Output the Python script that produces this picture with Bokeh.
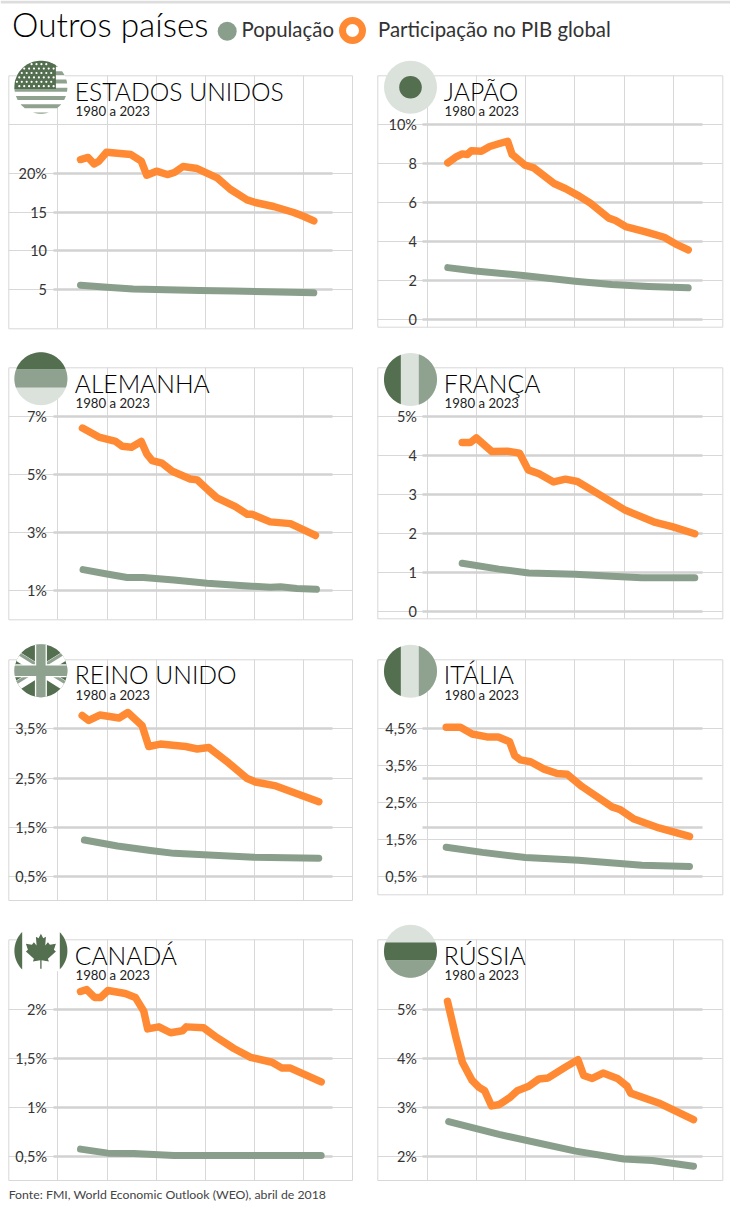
import math
from bokeh.plotting import figure
from bokeh.layouts import column, row
from bokeh.models import Range1d, LinearAxis, FixedTicker, Grid
from bokeh.core.properties import value
from bokeh.embed import file_html
from bokeh.resources import INLINE

# ---------- data (year, % of world) ----------
eua_anos_pib = [1980, 1981.4, 1982.5, 1983.4, 1984.8, 1986.8, 1989.3, 1991.2, 1992.2, 1994, 1996, 1997.3, 1998.9, 2001.5, 2005.2, 2007.6, 2010.7, 2012.2, 2015.6, 2019.3, 2021.2, 2023]
eua_pib = [21.76, 22.02, 21.2, 21.55, 22.7, 22.57, 22.4, 21.55, 19.74, 20.26, 19.83, 20.09, 20.86, 20.6, 19.4, 17.94, 16.57, 16.23, 15.72, 14.94, 14.43, 13.87]
eua_anos_pop = [1980, 1984.9, 1989.7, 1995.9, 2002, 2008.2, 2014.3, 2023]
eua_pop = [5.6, 5.34, 5.09, 5.0, 4.91, 4.83, 4.74, 4.61]

jap_anos_pib = [1980, 1981.4, 1982.6, 1983.5, 1984.2, 1986, 1987.5, 1989.1, 1990.7, 1991.5, 1993.8, 1995.4, 1999, 2001.1, 2003.5, 2005.5, 2008.8, 2010, 2011.8, 2015.4, 2018.7, 2020.7, 2023]
jap_pib = [8.03, 8.32, 8.49, 8.46, 8.65, 8.63, 8.87, 9.01, 9.14, 8.46, 7.91, 7.77, 6.97, 6.7, 6.32, 5.96, 5.19, 5.07, 4.76, 4.49, 4.21, 3.87, 3.56]
jap_anos_pop = [1980, 1984.9, 1993.9, 2002.8, 2009.3, 2015.9, 2023]
jap_pop = [2.65, 2.48, 2.23, 1.95, 1.78, 1.68, 1.61]

ale_anos_pib = [1980, 1983, 1986.1, 1987.3, 1989, 1990.8, 1991.8, 1992.8, 1994.6, 1996.5, 1999.8, 2001.1, 2003.2, 2004.7, 2008.1, 2010.3, 2011.2, 2014.5, 2018.2, 2022.8]
ale_pib = [6.6, 6.29, 6.14, 5.97, 5.94, 6.14, 5.71, 5.48, 5.39, 5.11, 4.84, 4.81, 4.44, 4.19, 3.89, 3.62, 3.62, 3.36, 3.3, 2.89]
ale_anos_pop = [1980.1, 1984.5, 1988.2, 1991.2, 1996.8, 2002.9, 2009, 2014.5, 2016.4, 2019.4, 2023]
ale_pop = [1.71, 1.56, 1.44, 1.44, 1.35, 1.24, 1.16, 1.1, 1.12, 1.06, 1.03]

fra_anos_pib = [1980, 1981.5, 1982.6, 1985.5, 1988.3, 1990.6, 1992.2, 1994.2, 1996.9, 1999.1, 2001.3, 2005.3, 2010.2, 2015.7, 2018.8, 2023]
fra_pib = [4.33, 4.33, 4.45, 4.1, 4.11, 4.06, 3.63, 3.53, 3.32, 3.39, 3.33, 3.0, 2.59, 2.28, 2.17, 1.99]
fra_anos_pop = [1980, 1986.8, 1992.3, 2000.9, 2007.6, 2013.2, 2023]
fra_pop = [1.23, 1.08, 0.98, 0.95, 0.9, 0.86, 0.86]

rei_anos_pib = [1980, 1981.2, 1983.2, 1986.7, 1988.3, 1990.9, 1992.1, 1994.2, 1998.8, 2000.9, 2003, 2006.7, 2010, 2011.5, 2015.2, 2023]
rei_pib = [3.77, 3.67, 3.78, 3.72, 3.83, 3.56, 3.14, 3.19, 3.14, 3.09, 3.12, 2.8, 2.49, 2.42, 2.34, 2.02]
rei_anos_pop = [1980.4, 1986.4, 1992.4, 1996.7, 2003.9, 2011.2, 2023]
rei_pop = [1.24, 1.12, 1.03, 0.97, 0.93, 0.89, 0.87]

ita_anos_pib = [1980, 1982.5, 1984.6, 1987.2, 1989.2, 1991.2, 1992.1, 1993.1, 1994.9, 1997.3, 1999.6, 2001.4, 2004, 2009.3, 2010.8, 2013.2, 2017.6, 2023]
ita_pib = [4.54, 4.54, 4.36, 4.28, 4.28, 4.15, 3.78, 3.66, 3.61, 3.41, 3.29, 3.27, 2.94, 2.39, 2.31, 2.06, 1.82, 1.59]
ita_anos_pop = [1980, 1986.4, 1994, 2003.4, 2014.6, 2023]
ita_pop = [1.3, 1.16, 1.02, 0.95, 0.81, 0.78]

can_anos_pib = [1980, 1981.1, 1982.5, 1983.6, 1984.9, 1988, 1989.8, 1991.3, 1992, 1994, 1996.1, 1998.2, 1998.9, 2002, 2004.4, 2007.4, 2010.4, 2014.2, 2016, 2017.5, 2023]
can_pib = [2.18, 2.2, 2.12, 2.12, 2.19, 2.16, 2.12, 1.98, 1.8, 1.82, 1.76, 1.78, 1.82, 1.81, 1.71, 1.6, 1.51, 1.46, 1.4, 1.4, 1.26]
can_anos_pop = [1980, 1984.9, 1989.5, 1996.7, 2023]
can_pop = [0.575, 0.534, 0.53, 0.51, 0.51]

rus_anos_pib = [1980, 1981.4, 1982.6, 1984.3, 1985.5, 1986.5, 1987.7, 1989.1, 1991, 1992.2, 1994.2, 1996, 1997.6, 2000.6, 2002.8, 2003.8, 2005.3, 2007.2, 2009.7, 2011.4, 2012, 2016.9, 2023]
rus_pib = [5.16, 4.46, 3.92, 3.55, 3.41, 3.34, 3.03, 3.06, 3.21, 3.34, 3.43, 3.58, 3.6, 3.82, 3.97, 3.65, 3.59, 3.7, 3.59, 3.43, 3.29, 3.09, 2.75]
rus_anos_pop = [1980.2, 1989, 2002.4, 2010.8, 2015.8, 2023]
rus_pop = [2.71, 2.45, 2.11, 1.95, 1.92, 1.8]

titulo = "Outros países"
serie_pop = "População"
serie_pib = "Participação no PIB global"
periodo = "1980 a 2023"
fonte = "Fonte: FMI, World Economic Outlook (WEO), abril de 2018"

# ---------- styles and layout (page pixels) ----------
FONT = "Lato"
FONT_LIGHT = "Lato Light"
ORANGE, GREEN = "#FF8A33", "#8A9F8B"
DARK, MID, LIGHT = "#546E50", "#8FA28F", "#DBE1DB"
THIN, THICK = "#D8D8D8", "#D2D2D2"
COL_X = [(0, 365), (365, 365)]
ROW_Y = [(58, 282), (340, 290), (630, 290), (920, 295)]
VGRID = [[57.3, 106.7, 155.7, 205, 254.3, 303.3], [426.7, 475.7, 525, 574.3, 623.7, 672.7]]
BOX_X = [(8.3, 352), (377.3, 722.3)]
THICK_X = [(52.7, 331.7), (422.3, 701.7)]
AXIS_X = [57.5, 427.5]
TITLE_X = [74.2, 443.2]
FLAG_X = [40.4, 410]
R = 26.5
BL = 0.4  # baseline correction of text glyphs, in em


def clip(poly, cx, cy, r=R, n=96):
    """Convex clipping of a polygon by the flag's disc."""
    ring = [(cx + r * math.cos(2 * math.pi * i / n), cy + r * math.sin(2 * math.pi * i / n)) for i in range(n)]
    out = poly
    for i in range(n):
        a, b = ring[i], ring[(i + 1) % n]
        inside = lambda p: (b[0] - a[0]) * (p[1] - a[1]) - (b[1] - a[1]) * (p[0] - a[0]) >= 0
        new = []
        for j in range(len(out)):
            s, e = out[j], out[(j + 1) % len(out)]
            si, ei = inside(s), inside(e)
            if si != ei:
                d1 = (b[0] - a[0]) * (s[1] - a[1]) - (b[1] - a[1]) * (s[0] - a[0])
                d2 = (b[0] - a[0]) * (e[1] - a[1]) - (b[1] - a[1]) * (e[0] - a[0])
                t = d1 / (d1 - d2)
                ip = (s[0] + t * (e[0] - s[0]), s[1] + t * (e[1] - s[1]))
            if si:
                new.append(s)
                if not ei:
                    new.append(ip)
            elif ei:
                new.append(ip)
        out = new
        if not out:
            break
    return out


def part(p, poly, color, cx, cy):
    c = clip(poly, cx, cy)
    if c:
        p.patch([q[0] for q in c], [q[1] for q in c], fill_color=color, line_color=None,
                x_range_name="px", y_range_name="px")


def rect(x0, x1, y0, y1):
    return [(x0, y0), (x1, y0), (x1, y1), (x0, y1)]


def disc(p, cx, cy, color):
    p.circle([cx], [cy], radius=R, fill_color=color, line_color=None, x_range_name="px", y_range_name="px")


def flag_us(p, cx, cy):
    disc(p, cx, cy, "#FFFFFF")
    top = cy - R
    for k in range(7):
        y0 = top + 2.2 + k * 8.25
        part(p, rect(cx - R, cx + R, y0, y0 + 4.2), MID, cx, cy)
    part(p, rect(cx - R, cx + 15, top, cy + 1.7), DARK, cx, cy)
    xs, ys = [], []
    for j in range(6):
        for i in range(9):
            x = cx - 24 + i * 4.9 + (j % 2) * 2.4
            y = top + 3.5 + j * 4.4
            if x < cx + 14 and (x - cx) ** 2 + (y - cy) ** 2 < (R - 1.5) ** 2:
                xs.append(x)
                ys.append(y)
    p.scatter(xs, ys, size=2.2, fill_color="#FFFFFF", line_color=None, x_range_name="px", y_range_name="px")


def flag_jp(p, cx, cy):
    disc(p, cx, cy, LIGHT)
    disc_r = 11.3
    p.circle([cx], [cy], radius=disc_r, fill_color=DARK, line_color=None, x_range_name="px", y_range_name="px")


def flag_de(p, cx, cy):
    disc(p, cx, cy, LIGHT)
    part(p, rect(cx - R, cx + R, cy - R, cy - 9.3), DARK, cx, cy)
    part(p, rect(cx - R, cx + R, cy - 9.3, cy + 8.7), MID, cx, cy)


def flag_fr(p, cx, cy):
    disc(p, cx, cy, LIGHT)
    part(p, rect(cx - R, cx - 9.7, cy - R, cy + R), DARK, cx, cy)
    part(p, rect(cx + 8.3, cx + R, cy - R, cy + R), MID, cx, cy)


def flag_ru(p, cx, cy):
    disc(p, cx, cy, LIGHT)
    part(p, rect(cx - R, cx + R, cy - 8.7, cy + 9.3), DARK, cx, cy)
    part(p, rect(cx - R, cx + R, cy + 9.3, cy + R), MID, cx, cy)


def band(cx, cy, ang, w):
    L = 40
    dx, dy = math.cos(ang), math.sin(ang)
    nx, ny = -dy * w / 2, dx * w / 2
    return [(cx - L * dx + nx, cy - L * dy + ny), (cx + L * dx + nx, cy + L * dy + ny),
            (cx + L * dx - nx, cy + L * dy - ny), (cx - L * dx - nx, cy - L * dy - ny)]


def flag_uk(p, cx, cy):
    disc(p, cx, cy, DARK)
    ang = math.radians(32)
    for a in (ang, -ang):
        part(p, band(cx, cy, a, 9.5), "#FFFFFF", cx, cy)
    part(p, band(cx + 1.2, cy - 2.6, ang, 3.2), MID, cx, cy)
    part(p, band(cx - 1.2, cy - 2.6, -ang, 3.2), MID, cx, cy)
    part(p, rect(cx - 6, cx + 6, cy - R, cy + R), "#FFFFFF", cx, cy)
    part(p, rect(cx - R, cx + R, cy - 6.5, cy + 6.5), "#FFFFFF", cx, cy)
    part(p, rect(cx - 4.7, cx + 4.7, cy - R, cy + R), MID, cx, cy)
    part(p, rect(cx - R, cx + R, cy - 5.2, cy + 5.2), MID, cx, cy)


def flag_ca(p, cx, cy):
    disc(p, cx, cy, "#FFFFFF")
    part(p, rect(cx - R, cx - 18.7, cy - R, cy + R), DARK, cx, cy)
    part(p, rect(cx + 18.9, cx + R, cy - R, cy + R), DARK, cx, cy)
    half = [(0, 0), (7, 13), (15, 9), (13, 35), (21, 25), (27, 33), (45, 30), (39, 48), (45, 53), (21, 75),
            (24, 83), (2, 79), (2, 105)]
    top = cy - 17
    right = [(cx + a / 3, top + b / 3) for a, b in half]
    left = [(cx - a / 3, top + b / 3) for a, b in reversed(half)]
    pts = right + left
    p.patch([q[0] for q in pts], [q[1] for q in pts], fill_color=DARK, line_color=None,
            x_range_name="px", y_range_name="px")


PANELS = [
    dict(nome="ESTADOS UNIDOS", col=0, row=0, box=(75.3, 328.3), ya=(20, 172.7), yb=(5, 289.3), xs=(80, 313.3),
         labels={20: "20%", 15: "15", 10: "10", 5: "5"}, extra=[26.25], anos_pib=eua_anos_pib, pib=eua_pib,
         anos_pop=eua_anos_pop, pop=eua_pop, flag=flag_us, fy=86.7, base=100.7),
    dict(nome="JAPÃO", col=1, row=0, box=(75.3, 326.7), ya=(10, 124), yb=(0, 318.7), xs=(447.3, 687.7),
         labels={10: "10%", 8: "8", 6: "6", 4: "4", 2: "2", 0: "0"}, anos_pib=jap_anos_pib, pib=jap_pib,
         anos_pop=jap_anos_pop, pop=jap_pop, flag=flag_jp, fy=86.7, base=100.7),
    dict(nome="ALEMANHA", col=0, row=1, box=(367.3, 619.3), ya=(7, 416), yb=(1, 589.7), xs=(82, 316),
         labels={7: "7%", 5: "5%", 3: "3%", 1: "1%"}, anos_pib=ale_anos_pib, pib=ale_pib,
         anos_pop=ale_anos_pop, pop=ale_pop, flag=flag_de, fy=378.3, base=392.7),
    dict(nome="FRANÇA", col=1, row=1, box=(367.3, 618.3), ya=(5, 416), yb=(0, 610.7), xs=(461.7, 694.3),
         labels={5: "5%", 4: "4", 3: "3", 2: "2", 1: "1", 0: "0"}, anos_pib=fra_anos_pib, pib=fra_pib,
         anos_pop=fra_anos_pop, pop=fra_pop, flag=flag_fr, fy=379, base=392.7),
    dict(nome="REINO UNIDO", col=0, row=2, box=(659.3, 900), ya=(3.5, 728.3), yb=(0.5, 876), xs=(81.7, 318.3),
         labels={3.5: "3,5%", 2.5: "2,5%", 1.5: "1,5%", 0.5: "0,5%"}, anos_pib=rei_anos_pib, pib=rei_pib,
         anos_pop=rei_anos_pop, pop=rei_pop, flag=flag_uk, fy=670.3, base=684.3),
    dict(nome="ITÁLIA", col=1, row=2, box=(659.3, 894.3), ya=(4.5, 728.3), yb=(0.5, 876.3), xs=(445.7, 689),
         labels={4.5: "4,5%", 3.5: "3,5%", 2.5: "2,5%", 1.5: "1,5%", 0.5: "0,5%"}, thick=[4.5, 3.17, 1.83, 0.5],
         anos_pib=ita_anos_pib, pib=ita_pib, anos_pop=ita_anos_pop, pop=ita_pop, flag=flag_fr, fy=670.7, base=684.3),
    dict(nome="CANADÁ", col=0, row=3, box=(939.3, 1180), ya=(2, 1008.7), yb=(0.5, 1156), xs=(80, 320.7),
         labels={2: "2%", 1.5: "1,5%", 1: "1%", 0.5: "0,5%"}, anos_pib=can_anos_pib, pib=can_pib,
         anos_pop=can_anos_pop, pop=can_pop, flag=flag_ca, fy=950.3, base=964.7),
    dict(nome="RÚSSIA", col=1, row=3, box=(939.3, 1180), ya=(5, 1008.7), yb=(2, 1156), xs=(447, 693),
         labels={5: "5%", 4: "4%", 3: "3%", 2: "2%"}, anos_pib=rus_anos_pib, pib=rus_pib,
         anos_pop=rus_anos_pop, pop=rus_pop, flag=flag_ru, fy=950.7, base=964.7),
]


def label(p, x, y, txt, size, color, font=FONT, **kw):
    p.text([x], [y - BL * size], text=[txt], text_font=value(font), text_font_size=f"{size}px", text_color=color,
           text_baseline="alphabetic", **kw)


def panel(c):
    left, w = COL_X[c["col"]]
    top, h = ROW_Y[c["row"]]
    x0, x1 = c["xs"]
    sx = (2023 - 1980) / (x1 - x0)
    xd = lambda px: 1980 + (px - x0) * sx
    (va, pa), (vb, pb) = c["ya"], c["yb"]
    sy = (vb - va) / (pb - pa)
    yd = lambda py: va + (py - pa) * sy
    p = figure(width=w, height=h, output_backend="svg", toolbar_location=None, min_border=0,
               x_range=Range1d(xd(left), xd(left + w)), y_range=Range1d(yd(top + h), yd(top)),
               x_axis_location=None, y_axis_location=None, outline_line_color=None, background_fill_color=None,
               border_fill_color=None)
    p.grid.visible = False
    p.extra_x_ranges["px"] = Range1d(left, left + w)
    p.extra_y_ranges["px"] = Range1d(top + h, top)
    col = c["col"]
    bx0, bx1 = BOX_X[col]
    by0, by1 = c["box"]
    ticks = list(c["labels"].keys())
    thin = ticks + c.get("extra", [])
    thick = c.get("thick", ticks)
    p.add_layout(Grid(dimension=1, ticker=FixedTicker(ticks=thin), grid_line_color=THIN, grid_line_width=1,
                      cross_bounds=(xd(bx0), xd(bx1))))
    p.add_layout(Grid(dimension=0, ticker=FixedTicker(ticks=[xd(v) for v in VGRID[col]]), grid_line_color=THIN,
                      grid_line_width=1, cross_bounds=(yd(by1), yd(by0))))
    tx0, tx1 = THICK_X[col]
    p.add_layout(Grid(dimension=1, ticker=FixedTicker(ticks=thick), grid_line_color=THICK, grid_line_width=2.6,
                      cross_bounds=(xd(tx0), xd(tx1))))
    p.quad(left=[bx0], right=[bx1], top=[by0], bottom=[by1], fill_color=None, line_color=THIN, line_width=1,
           level="underlay", x_range_name="px", y_range_name="px")
    p.add_layout(LinearAxis(ticker=FixedTicker(ticks=ticks), major_label_overrides=c["labels"],
                            fixed_location=xd(AXIS_X[col]), axis_line_color=None, major_tick_line_color=None,
                            minor_tick_line_color=None, major_label_standoff=5,
                            major_label_text_font=FONT, major_label_text_font_size="14.5px",
                            major_label_text_color="#333333"), "left")
    p.line(c["anos_pop"], c["pop"], line_color=GREEN, line_width=7, line_cap="round", line_join="round")
    p.line(c["anos_pib"], c["pib"], line_color=ORANGE, line_width=7.5, line_cap="round", line_join="round")
    c["flag"](p, FLAG_X[col], c["fy"])
    tx = TITLE_X[col]
    label(p, tx, c["base"], c["nome"], 24.7, "#000000", FONT_LIGHT, x_range_name="px", y_range_name="px")
    label(p, tx + 0.8, c["base"] + 15.4, periodo, 13.2, "#222222", x_range_name="px", y_range_name="px")
    return p


figs = [panel(c) for c in PANELS]
label(figs[6], 8.2, 1199.3, fonte, 12.3, "#444444", x_range_name="px", y_range_name="px")

# header: title and key
head = figure(width=730, height=58, output_backend="svg", toolbar_location=None, min_border=0,
              x_range=Range1d(0, 730), y_range=Range1d(58, 0), x_axis_location=None, y_axis_location=None,
              outline_line_color=None)
head.grid.visible = False
head.quad(left=[0], right=[730], top=[0], bottom=[3], fill_color="#DDDDDD", line_color=None)
label(head, 11.5, 37.3, titulo, 33.4, "#000000", FONT_LIGHT)
head.scatter([226.7], [30.7], size=19, fill_color=GREEN, line_color=None)
label(head, 241, 36.5, serie_pop, 20.4, "#333333")
head.scatter([352], [30], size=20, fill_color="#FFFFFF", line_color=ORANGE, line_width=7)
label(head, 377.5, 36.5, serie_pib, 20.4, "#333333")

page = column(head, row(figs[0], figs[1]), row(figs[2], figs[3]), row(figs[4], figs[5]), row(figs[6], figs[7]))
open("out.html", "w").write(file_html(page, INLINE))
